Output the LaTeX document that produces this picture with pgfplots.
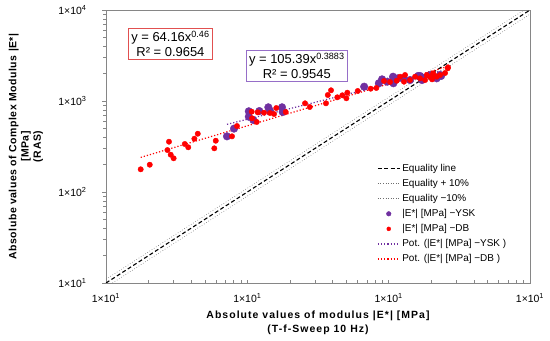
\documentclass[border=0pt]{standalone}
\usepackage{fontspec}
\setmainfont{Liberation Sans}
\newfontfamily\xlabfont[LetterSpace=10]{Liberation Sans}
\newfontfamily\ylabfont[LetterSpace=5]{Liberation Sans}
\usepackage{pgfplots}
\pgfplotsset{compat=1.18}
\definecolor{ysk}{RGB}{112,48,160}
\definecolor{db}{RGB}{255,0,0}
\definecolor{axgray}{RGB}{134,134,134}
\definecolor{eqgray}{RGB}{110,110,110}
\definecolor{boxred}{RGB}{225,80,80}
\definecolor{boxpur}{RGB}{150,110,200}
\begin{document}
\begin{tikzpicture}
\begin{axis}[
  scale only axis, width=424bp, height=273bp,
  xmode=log, ymode=log,
  xmin=10, xmax=10000, ymin=10, ymax=10000,
  xtick={10,100,1000,10000},
  xticklabels={1×10\textsuperscript{1},1×10\textsuperscript{1},1×10\textsuperscript{1},1×10\textsuperscript{1}},
  ytick={10,100,1000,10000},
  yticklabels={1×10\textsuperscript{1},1×10\textsuperscript{2},1×10\textsuperscript{3},1×10\textsuperscript{4}},
  tick label style={font=\fontsize{10.5}{12}\selectfont},
  yticklabel style={xshift=-12bp},
  xticklabel style={yshift=-3bp},
  axis line style={axgray, line width=0.9pt},
  every tick/.style={axgray, line width=0.5pt},
  tick pos=left,
  tick align=outside,
  major tick length=4bp, minor tick length=3bp,
  x tick style={yshift=3bp},
  xlabel={Absolute values of modulus |E*| [MPa]\\(T-f-Sweep 10 Hz)},
  xlabel style={at={(rel axis cs:0.5,-0.102)}, anchor=north, align=center, inner sep=0pt, font=\xlabfont\bfseries\fontsize{10.5}{13.5}\selectfont},
  ylabel={Absolube values of Complex Modulus |E*|\\{[MPa]}\\(RAS)},
  ylabel style={at={(rel axis cs:-0.148,0.5)}, anchor=south, align=center, inner sep=0pt, font=\ylabfont\bfseries\fontsize{10.5}{12.3}\selectfont},
  legend style={at={(rel axis cs:0.632,0.452)}, anchor=north west, draw=none, fill=none,
    font=\fontsize{10}{12}\selectfont, row sep=1.6bp,
    nodes={text height=7.5bp, text depth=2bp}},
  legend cell align=left,
  legend image code/.code={\draw[#1] (0bp,0bp) -- (22bp,0bp);},
]
\coordinate (ll) at (rel axis cs:0,0);
\addplot[black, dashed, line width=1.1pt, dash pattern=on 4pt off 2.5pt] coordinates {(10,10) (10000,10000)};
\addlegendentry{Equality line}
\addplot[eqgray, dotted, line width=0.6pt] coordinates {(10,11) (10000,11000)};
\addlegendentry{Equality + 10\%}
\addplot[eqgray, dotted, line width=0.6pt] coordinates {(10,9) (10000,9000)};
\addlegendentry{Equality −10\%}
\addplot[only marks, mark=*, mark size=3.8bp, color=ysk,
  legend image code/.code={\fill[ysk] (11bp,0bp) circle (2.3bp);}] coordinates {
(71.8,409) (80.5,497) (102.4,771) (102.4,672) (110.3,618) (121.6,776) (140.8,853) (144.6,782)
(176,853) (178,757) (671,1437) (852,1566) (898,1730) (979,1630) (1080,1566) (1115,1700)
(1159,1775) (1271,1775) (1416,1700) (1667,1884) (1722,1700) (1964,1930) (2188,1775)
(1074,1849) (1614,1884) (1751,1791) (2312,1931) (2350,1884)
};
\addlegendentry{|E*| [MPa] −YSK}
\addplot[only marks, mark=*, mark size=2.7bp, color=db,
  legend image code/.code={\fill[db] (11bp,0bp) circle (2bp);}] coordinates {
(17.6,177.6) (20.4,199.5) (27.9,357) (27.2,289) (28.7,257) (30.1,234.6) (36.1,337) (38.2,310)
(42.2,385) (44.6,437) (58.4,302) (59.8,366) (77.9,409) (84.5,531) (107.4,763) (108,646)
(116.6,588) (118.5,751) (131.3,744) (144.7,738) (154.5,720) (160.3,837) (187,757) (256,943)
(276.5,859) (360,943) (371,1164) (391,1311) (433,1098) (470,1155) (502,1071) (510,1234)
(604,1289) (746,1365) (818,1390) (927,1660) (1022,1618) (1140,1672) (1284,1630) (1416,1700)
(1667,1775) (1811,1700) (1964,1837) (2130,1884) (2310,1930) (2506,2030) (2618,2286) (2028,1730)
(1205,1849) (1306,1931) (1538,1849) (1862,1931) (2062,2014) (2188,1849) (2630,2344)
};
\addlegendentry{|E*| [MPa] −DB}
\addplot[ysk, dotted, line width=1.2pt] coordinates {(71.8,554) (2350,2146)};
\addlegendentry{Pot. (|E*| [MPa] −YSK )}
\addplot[db, dotted, line width=1.2pt] coordinates {(17.6,240) (2630,2403)};
\addlegendentry{Pot. (|E*| [MPa] −DB )}
\node[draw=boxred, fill=white, align=center, font=\fontsize{13}{15}\selectfont, inner sep=2.5bp, line width=0.7pt]
  at (rel axis cs:0.152,0.877) {y = 64.16x\textsuperscript{0.46}\\R² = 0.9654};
\node[draw=boxpur, fill=white, align=center, font=\fontsize{13}{15}\selectfont, inner sep=2.5bp, line width=0.7pt]
  at (rel axis cs:0.450,0.795) {y = 105.39x\textsuperscript{0.3883}\\R² = 0.9545};
\end{axis}
\pgfresetboundingbox
\path[use as bounding box] (ll) ++(-106bp,-58bp) rectangle ++(550bp,341bp);
\end{tikzpicture}
\end{document}
